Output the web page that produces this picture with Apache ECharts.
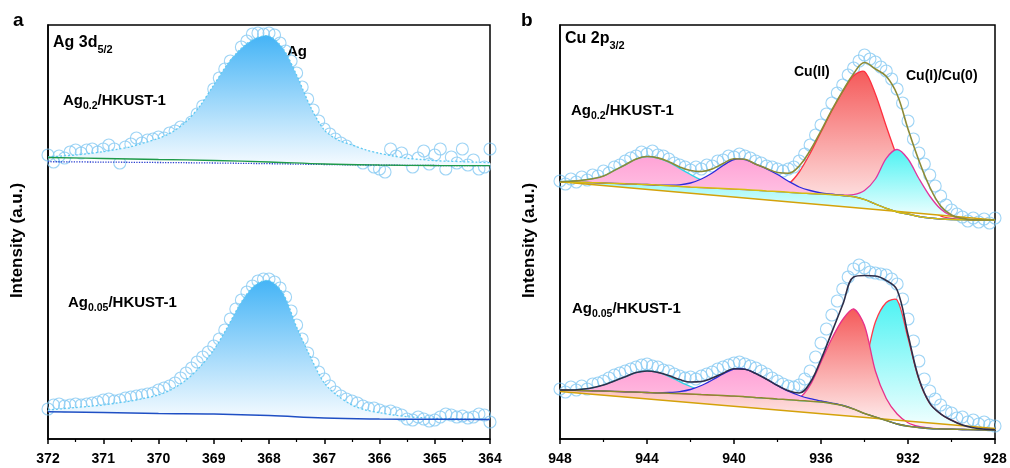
<!DOCTYPE html>
<html>
<head>
<meta charset="utf-8">
<script src="https://cdn.jsdelivr.net/npm/echarts@6/dist/echarts.min.js"></script>
<style>
  html, body { margin: 0; padding: 0; background: #fff; }
  #chart { width: 1010px; height: 468px; }
</style>
</head>
<body>
<div id="chart"></div>
<script>
// ---- panel a: Ag 3d5/2 ----
const aEnergy = [
  372.0, 371.9, 371.8, 371.7, 371.6, 371.5, 371.4, 371.3, 371.2, 371.1,
  371.0, 370.9, 370.8, 370.7, 370.6, 370.5, 370.4, 370.3, 370.2, 370.1,
  370.0, 369.9, 369.8, 369.7, 369.6, 369.5, 369.4, 369.3, 369.2, 369.1,
  369.0, 368.9, 368.8, 368.7, 368.6, 368.5, 368.4, 368.3, 368.2, 368.1,
  368.0, 367.9, 367.8, 367.7, 367.6, 367.5, 367.4, 367.3, 367.2, 367.1,
  367.0, 366.9, 366.8, 366.7, 366.6, 366.5, 366.4, 366.3, 366.2, 366.1,
  366.0, 365.9, 365.8, 365.7, 365.6, 365.5, 365.4, 365.3, 365.2, 365.1,
  365.0, 364.9, 364.8, 364.7, 364.6, 364.5, 364.4, 364.3, 364.2, 364.1,
  364.0
];
// Ag0.2/HKUST-1 raw counts (offset upward for stacking)
const aTopCounts = [
  284, 277, 283, 281, 287, 289, 286, 289, 290, 287,
  290, 294, 290, 276, 292, 295, 301, 296, 299, 300,
  302, 301, 306, 308, 312, 311, 317, 325, 333, 331,
  350, 361, 370, 378, 376, 392, 398, 405, 406, 405,
  406, 404, 396, 388, 378, 366, 352, 340, 329, 318,
  310, 305, 300, 296, 293, 288, 281, 276, 279, 272,
  270, 267, 290, 283, 286, 279, 272, 281, 288, 275,
  284, 290, 270, 282, 276, 290, 274, 279, 270, 272,
  290
];
// Ag0.05/HKUST-1 raw counts
const aBotCounts = [
  30, 34, 35, 33, 34, 35, 34, 35, 36, 37,
  39, 40, 38, 39, 41, 42, 43, 44, 45, 46,
  49, 51, 53, 56, 61, 66, 71, 77, 82, 87,
  93, 100, 109, 120, 130, 139, 147, 153, 158, 160,
  160, 157, 151, 142, 128, 114, 100, 86, 76, 67,
  60, 53, 47, 43, 40, 38, 36, 33, 31, 31,
  29, 27, 28, 26, 24, 20, 19, 22, 20, 18,
  19, 22, 25, 24, 22, 23, 21, 22, 25, 24,
  17
];
const aFitE = [372, 371.75, 371.5, 371.25, 371, 370.75, 370.5, 370.25, 370, 369.75, 369.5,
  369.25, 369, 368.75, 368.5, 368.25, 368, 367.75, 367.5, 367.25, 367, 366.75, 366.5,
  366.25, 366, 365.75, 365.5, 365.25, 365, 364.75, 364.5, 364.25, 364];
const aTopFit = [282, 283, 284, 285.5, 287.3, 289.7, 292.3, 296.4, 300.7, 307, 317.3,
  333, 354, 375, 390.7, 400.5, 403, 390.7, 364, 332.3, 309, 299, 294,
  289.2, 285.7, 283, 280.7, 279.5, 278.3, 277.8, 277.3, 276.8, 276.3];
const aBotFit = [29, 30.2, 31.5, 32.7, 34, 36, 38, 40.8, 44, 50, 59,
  72, 89, 112, 137, 154, 158.5, 146, 112, 82, 56, 43, 34,
  29, 26.3, 24, 22.3, 21.3, 20.7, 20.3, 20, 19.8, 19.7];
const aBgE = [372, 371, 370, 369, 368, 367, 366, 365, 364];
const aTopBg = [281.5, 280.5, 279.5, 278.5, 277, 275, 274, 273.5, 273.3];
const aTopBgAlt = [277.3, 276.9, 276.5, 276, 275.3, 274.5, 273.9, 273.5, 273.3];
const aBotBg = [27.3, 26.5, 25.5, 25, 23.5, 21, 20, 19.7, 19.5];

// ---- panel b: Cu 2p3/2 ----
const bEnergy = [
  948, 947.75, 947.5, 947.25, 947, 946.75, 946.5, 946.25, 946, 945.75,
  945.5, 945.25, 945, 944.75, 944.5, 944.25, 944, 943.75, 943.5, 943.25,
  943, 942.75, 942.5, 942.25, 942, 941.75, 941.5, 941.25, 941, 940.75,
  940.5, 940.25, 940, 939.75, 939.5, 939.25, 939, 938.75, 938.5, 938.25,
  938, 937.75, 937.5, 937.25, 937, 936.75, 936.5, 936.25, 936, 935.75,
  935.5, 935.25, 935, 934.75, 934.5, 934.25, 934, 933.75, 933.5, 933.25,
  933, 932.75, 932.5, 932.25, 932, 931.75, 931.5, 931.25, 931, 930.75,
  930.5, 930.25, 930, 929.75, 929.5, 929.25, 929, 928.75, 928.5, 928.25,
  928
];
const bTopCounts = [
  258, 255, 260, 257, 262, 259, 264, 263, 268, 266,
  272, 274, 278, 281, 283, 287, 285, 288, 284, 283,
  280, 276, 274, 272, 269, 272, 270, 274, 273, 278,
  279, 283, 282, 285, 283, 281, 278, 276, 273, 272,
  270, 268, 270, 272, 278, 285, 294, 304, 314, 325,
  336, 346, 354, 364, 371, 378, 384, 380, 377, 372,
  368, 360, 350, 336, 318, 300, 286, 275, 264, 253,
  243, 234, 229, 225, 222, 218, 221, 217, 220, 216,
  221
];
const bBotCounts = [
  50, 47, 52, 49, 53, 50, 55, 56, 58, 61,
  64, 66, 68, 70, 72, 74, 75, 73, 72, 69,
  68, 65, 63, 61, 62, 60, 63, 65, 67, 70,
  72, 74, 76, 77, 75, 73, 71, 68, 65, 61,
  58, 55, 53, 52, 54, 60, 68, 82, 96, 110,
  124, 138, 150, 162, 170, 174, 171, 167, 166, 165,
  164, 160, 155, 140, 120, 98, 78, 60, 48, 40,
  34, 28, 26, 21, 22, 17, 19, 15, 17, 14,
  13
];
const bFitE = [948, 947.5, 947, 946.5, 946, 945.5, 945, 944.5, 944, 943.5,
  943, 942.5, 942, 941.5, 941, 940.5, 940, 939.5, 939, 938.5,
  938, 937.5, 937, 936.5, 936, 935.5, 935, 934.5, 934, 933.5,
  933, 932.5, 932, 931.5, 931, 930.5, 930, 929.5, 929, 928.5, 928];
const bLinE = [948, 928];

// Ag0.2/HKUST-1 fit
const bTopLinear = [257.3, 219];
const bTopShirley = [257.3, 257, 256.7, 256.3, 256, 255.6, 255.2, 254.9, 254.5, 253.9,
  253.3, 252.6, 252, 251.5, 251, 250.5, 250, 249.4, 248.8, 248.1,
  247.5, 246.8, 246, 245.5, 245, 244.3, 243.5, 242.3, 239.5, 235,
  230.7, 227, 225, 222.5, 221, 220, 219.5, 219.3, 219.1, 219, 219];
const bTopSat1 = [0, 0.8, 2, 4, 7, 13, 19, 25, 28, 27,
  23.5, 18, 12.5, 7.5, 4, 2, 0.8, 0.3, 0, 0,
  0, 0, 0, 0, 0, 0, 0, 0, 0, 0,
  0, 0, 0, 0, 0, 0, 0, 0, 0, 0, 0];
const bTopSat2 = [0, 0, 0, 0, 0, 0, 0, 0, 0, 0,
  0.5, 1.5, 4, 8.5, 15, 23, 29.5, 30, 26, 22,
  17, 11, 6, 3, 1.2, 0.5, 0, 0, 0, 0,
  0, 0, 0, 0, 0, 0, 0, 0, 0, 0, 0];
const bTopCu2 = [0, 0, 0, 0, 0, 0, 0, 0, 0, 0,
  0, 0, 0, 0, 0, 0, 0, 0, 0, 0.5,
  2, 8, 21, 40, 62, 84, 104, 121, 128, 110,
  82, 55, 30, 18, 9, 3, 1, 0.3, 0, 0, 0];
const bTopCu1 = [0, 0, 0, 0, 0, 0, 0, 0, 0, 0,
  0, 0, 0, 0, 0, 0, 0, 0, 0, 0,
  0, 0, 0, 0, 0, 0.3, 0.5, 2, 9, 25,
  50, 62.5, 55, 38, 22, 10, 3.5, 1, 0, 0, 0];
const bTopEnvelope = [257.3, 257.8, 258.7, 260.3, 263, 268.6, 274.2, 279.9, 282.5, 281.1,
  277.3, 272.1, 268.5, 267.5, 270, 275.5, 280.3, 279.7, 274.8, 270.6,
  266.5, 265.8, 273, 288.5, 308.2, 329.1, 348, 365.3, 376.5, 370,
  362.7, 344.5, 310, 278.5, 252, 233, 224, 220.6, 219.1, 219, 219];

// Ag0.05/HKUST-1 fit
const bBotLinear = [47.5, 10.5];
const bBotShirley = [49, 48.7, 48.5, 48.2, 48, 47.6, 47.2, 46.9, 46.5, 46.1,
  45.7, 45.4, 45, 44.5, 44, 43.5, 43, 42.3, 41.5, 40.8,
  40, 39.3, 38.5, 37.8, 37, 35.5, 33.5, 30, 25.5, 22,
  18.5, 15, 12.8, 11.5, 10.5, 10.1, 9.8, 9.5, 9.3, 9.1, 9];
const bBotSat1 = [0, 0.3, 1.3, 3, 6, 10.5, 15, 19.5, 21.5, 20.5,
  17, 12, 7.5, 4, 2, 0.8, 0.3, 0, 0, 0,
  0, 0, 0, 0, 0, 0, 0, 0, 0, 0,
  0, 0, 0, 0, 0, 0, 0, 0, 0, 0, 0];
const bBotSat2 = [0, 0, 0, 0, 0, 0, 0, 0, 0, 0,
  0.8, 2, 4.5, 9, 15, 21.5, 27, 27.5, 24, 19,
  13.5, 8.5, 5, 2.5, 1, 0.4, 0, 0, 0, 0,
  0, 0, 0, 0, 0, 0, 0, 0, 0, 0, 0];
const bBotCu2 = [0, 0, 0, 0, 0, 0, 0, 0, 0, 0,
  0, 0, 0, 0, 0, 0, 0, 0, 0, 0,
  0, 0.5, 2.5, 16, 40, 65, 86, 100, 88, 46,
  22, 10, 3.5, 1, 0.3, 0, 0, 0, 0, 0, 0];
const bBotCu1 = [0, 0, 0, 0, 0, 0, 0, 0, 0, 0,
  0, 0, 0, 0, 0, 0, 0, 0, 0, 0,
  0, 0, 0, 0, 1.5, 6, 15, 32, 50, 95,
  118, 124, 88, 48, 25, 15, 9, 4.5, 2, 0.8, 0.3];
const bBotEnvelope = [49, 49, 49.8, 51.2, 54, 58.1, 62.2, 66.4, 68, 66.6,
  63.5, 59.4, 57, 57.5, 61, 65.8, 70.3, 69.8, 65.5, 59.8,
  53.5, 48.3, 46, 56.3, 79.5, 106.9, 134.5, 162, 163.5, 163,
  158.5, 149, 104.3, 60.5, 35.8, 25.1, 18.8, 14, 11.3, 9.9, 9.3];

const FONT = '"Liberation Sans", Arial, Helvetica, sans-serif';
const PINK = ['#ffa3d6', '#ffd6ec'];
const RED = ['#f55a5a', '#fff6f6'];
const CYAN = ['#4ef3f3', '#f6ffff'];
const BLUE = ['#45b4f6', '#f6fbff'];

const pairs = (xs, ys) => xs.map((x, i) => [x, ys[i]]);
const onTop = (base, peak) => base.map((v, i) => v + peak[i]);

function circles(idx, xs, ys) {
  return {
    type: 'scatter', xAxisIndex: idx, yAxisIndex: idx, z: 1, silent: true,
    symbol: 'circle', symbolSize: 12, data: pairs(xs, ys),
    itemStyle: { color: 'rgba(255,255,255,0)', borderColor: '#86c9f2', borderWidth: 1.1 }
  };
}

function curve(idx, xs, ys, color, width, z, type) {
  return {
    type: 'line', xAxisIndex: idx, yAxisIndex: idx, z, silent: true,
    symbol: 'none', smooth: 0.4, data: pairs(xs, ys),
    lineStyle: { color, width, type: type || 'solid' }
  };
}

// filled peak between a component curve and its baseline
function peak(idx, xs, top, baseXs, base, colors, stroke, dash) {
  return {
    type: 'custom', xAxisIndex: idx, yAxisIndex: idx, z: 2, silent: true,
    data: [[xs[0], top[0]]],
    renderItem: (params, api) => {
      const up = xs.map((x, i) => api.coord([x, top[i]]));
      const low = baseXs.map((x, i) => api.coord([x, base[i]])).reverse();
      return {
        type: 'group',
        children: [
          {
            type: 'polygon', shape: { points: up.concat(low), smooth: 0.3 },
            style: {
              fill: new echarts.graphic.LinearGradient(0, 0, 0, 1, [
                { offset: 0, color: colors[0] }, { offset: 1, color: colors[1] }
              ])
            }
          },
          {
            type: 'polyline', shape: { points: up, smooth: 0.3 },
            style: { fill: null, stroke, lineWidth: 1.3, lineDash: dash || null }
          }
        ]
      };
    }
  };
}

function xAxis(idx, min, max, step) {
  return {
    type: 'value', gridIndex: idx, min, max, interval: step, inverse: true,
    axisLine: { onZero: false, lineStyle: { color: '#000', width: 1.5 } },
    axisTick: { length: 5, lineStyle: { color: '#000', width: 1.5 } },
    minorTick: { show: true, splitNumber: 2, length: 3, lineStyle: { color: '#000', width: 1.2 } },
    axisLabel: { color: '#000', fontSize: 14, fontWeight: 'bold', fontFamily: FONT, margin: 13 },
    splitLine: { show: false }, minorSplitLine: { show: false }
  };
}

function yAxis(idx) {
  return {
    type: 'value', gridIndex: idx, min: 0, max: 414,
    axisLabel: { show: false }, axisTick: { show: false }, splitLine: { show: false },
    axisLine: { show: true, lineStyle: { color: '#000', width: 1.5 } },
    name: 'Intensity (a.u.)', nameLocation: 'middle', nameGap: 22,
    nameTextStyle: { color: '#000', fontSize: 17, fontWeight: 'bold', fontFamily: FONT, padding: [0, 17, 0, 0] }
  };
}

function label(x, y, text, size, subSize) {
  const base = { fontSize: size, fontWeight: 'bold', fontFamily: FONT, fill: '#000' };
  return {
    type: 'text', x, y, silent: true,
    style: {
      text, fill: '#000', fontFamily: FONT, fontWeight: 'bold', fontSize: size, verticalAlign: 'top',
      rich: {
        n: Object.assign({ lineHeight: size, verticalAlign: 'top' }, base),
        s: Object.assign({}, base, { fontSize: subSize || size, lineHeight: subSize || size,
          verticalAlign: 'top', padding: [Math.round(size * 0.55), 0, 0, 0] })
      }
    }
  };
}

const chart = echarts.init(document.getElementById('chart'));

chart.setOption({
  animation: false,
  backgroundColor: '#fff',
  grid: [
    { left: 48, top: 25, width: 442, height: 414, show: true, borderColor: '#000', borderWidth: 1.5 },
    { left: 560, top: 25, width: 435, height: 414, show: true, borderColor: '#000', borderWidth: 1.5 }
  ],
  xAxis: [xAxis(0, 364, 372, 1), xAxis(1, 928, 948, 4)],
  yAxis: [yAxis(0), yAxis(1)],
  series: [
    // panel a
    circles(0, aEnergy, aTopCounts),
    circles(0, aEnergy, aBotCounts),
    peak(0, aFitE, aTopFit, aBgE, aTopBg, BLUE, '#5fc9f2', [2, 2]),
    peak(0, aFitE, aBotFit, aBgE, aBotBg, BLUE, '#5fc9f2', [2, 2]),
    curve(0, aBgE, aTopBgAlt, '#2a3fd0', 1.3, 3, 'dotted'),
    curve(0, aBgE, aTopBg, '#1f9a4a', 1.3, 3),
    curve(0, aBgE, aBotBg, '#1f4fc4', 1.5, 3),

    // panel b, Ag0.2/HKUST-1
    circles(1, bEnergy, bTopCounts),
    peak(1, bFitE, onTop(bTopShirley, bTopCu2), bLinE, bTopLinear, RED, '#ff2f3f'),
    peak(1, bFitE, onTop(bTopShirley, bTopCu1), bLinE, bTopLinear, CYAN, '#e0359e'),
    peak(1, bFitE, onTop(bTopShirley, bTopSat1), bFitE, bTopShirley, PINK, '#2fd4e6'),
    peak(1, bFitE, onTop(bTopShirley, bTopSat2), bFitE, bTopShirley, PINK, '#2b2bdc'),
    curve(1, bLinE, bTopLinear, '#d4a20a', 1.5, 3),
    curve(1, bFitE, bTopShirley, '#d6bc10', 1.5, 3),
    curve(1, bFitE, bTopEnvelope, '#8c8a36', 1.6, 4),

    // panel b, Ag0.05/HKUST-1
    circles(1, bEnergy, bBotCounts),
    peak(1, bFitE, onTop(bBotShirley, bBotCu1), bLinE, bBotLinear, CYAN, '#ff3a4a'),
    peak(1, bFitE, onTop(bBotShirley, bBotCu2), bLinE, bBotLinear, RED, '#e8308a'),
    peak(1, bFitE, onTop(bBotShirley, bBotSat1), bFitE, bBotShirley, PINK, '#2fd4e6'),
    peak(1, bFitE, onTop(bBotShirley, bBotSat2), bFitE, bBotShirley, PINK, '#2b2bdc'),
    curve(1, bLinE, bBotLinear, '#d4a20a', 1.5, 3),
    curve(1, bFitE, bBotShirley, '#8c8c2c', 1.5, 3),
    curve(1, bFitE, bBotEnvelope, '#2e2e48', 1.6, 4)
  ],
  graphic: [
    label(13, 11, '{n|a}', 19),
    label(521, 11, '{n|b}', 19),
    label(53, 35, '{n|Ag 3d}{s|5/2}', 16, 11),
    label(287, 44, '{n|Ag}', 15),
    label(63, 93, '{n|Ag}{s|0.2}{n|/HKUST-1}', 15, 10.5),
    label(68, 295, '{n|Ag}{s|0.05}{n|/HKUST-1}', 15, 10.5),
    label(565, 31, '{n|Cu 2p}{s|3/2}', 16, 11),
    label(571, 103, '{n|Ag}{s|0.2}{n|/HKUST-1}', 15, 10.5),
    label(794, 65, '{n|Cu(II)}', 14),
    label(906, 69, '{n|Cu(I)/Cu(0)}', 14),
    label(572, 301, '{n|Ag}{s|0.05}{n|/HKUST-1}', 15, 10.5)
  ]
});
</script>
</body>
</html>
